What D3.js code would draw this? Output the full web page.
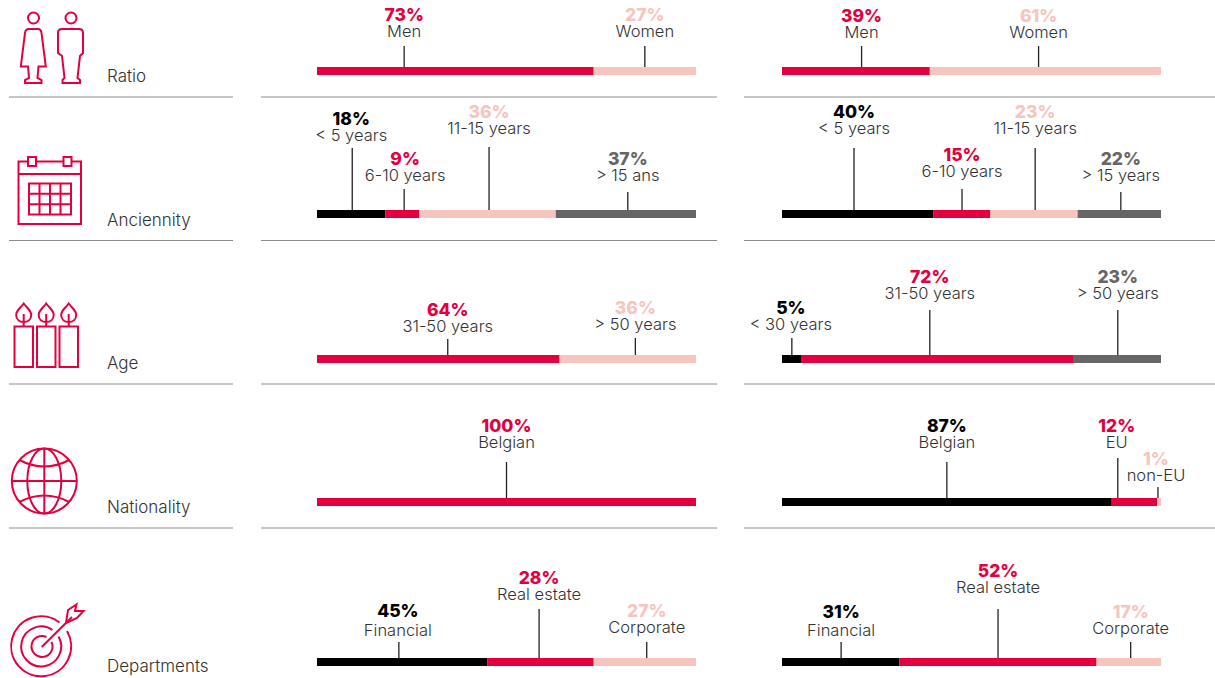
<!DOCTYPE html>
<html>
<head>
<meta charset="utf-8">
<script src="https://cdn.jsdelivr.net/npm/d3@7"></script>
<style>
html, body { margin: 0; padding: 0; background: #fff; }
svg { display: block; }
text { font-family: Inter, "Open Sans", sans-serif; text-anchor: middle; }
.pct { font-size: 17.5px; font-weight: 800; }
.name { font-size: 16.5px; font-weight: 300; fill: #333; }
.rowname { font-size: 17px; font-weight: 300; fill: #333; text-anchor: start; }
.icon * { fill: none; stroke: #e4003f; stroke-width: 2; }
</style>
</head>
<body>
<div id="the_chart"></div>
<script>
var rowNames = ["Ratio", "Anciennity", "Age", "Nationality", "Departments"];

// left column
var ratioNamesA = ["Men", "Women"];
var ratioValuesA = [73, 27];
var ancNamesA = ["< 5 years", "6-10 years", "11-15 years", "> 15 ans"];
var ancValuesA = [18, 9, 36, 37];
var ageNamesA = ["31-50 years", "> 50 years"];
var ageValuesA = [64, 36];
var natNamesA = ["Belgian"];
var natValuesA = [100];
var depNamesA = ["Financial", "Real estate", "Corporate"];
var depValuesA = [45, 28, 27];

// right column
var ratioNamesB = ["Men", "Women"];
var ratioValuesB = [39, 61];
var ancNamesB = ["< 5 years", "6-10 years", "11-15 years", "> 15 years"];
var ancValuesB = [40, 15, 23, 22];
var ageNamesB = ["< 30 years", "31-50 years", "> 50 years"];
var ageValuesB = [5, 72, 23];
var natNamesB = ["Belgian", "EU", "non-EU"];
var natValuesB = [87, 12, 1];
var depNamesB = ["Financial", "Real estate", "Corporate"];
var depValuesB = [31, 52, 17];

var colors = { red: "#e4003f", pink: "#f6c5be", black: "#000000", grey: "#666666" };

// where the leader lines sit, on the same 0-100 axis as the bars
var stemAtA = [[23, 86.5], [9.3, 23, 45.4, 82], [34.5, 84], [50], [21.6, 58.6, 87]];
var stemAtB = [[21, 67.7], [19, 47.5, 66.8, 89.4], [2.6, 39, 88.6], [43.5, 88.6, 99.2], [15.6, 57, 92]];

var w = 1215, h = 678;
var barH = 8;
var barTop = [67, 210, 355, 498, 658];
var ruleY = [97, 240.5, 384, 528];

var panels = [
  // left column
  { col: 0, row: 0, names: ratioNamesA, values: ratioValuesA, tones: ["red", "pink"],
    stemTop: [46, 46], pctY: [15, 15], nameY: [31, 31], dx: [0, 0] },
  { col: 0, row: 1, names: ancNamesA, values: ancValuesA, tones: ["black", "red", "pink", "grey"],
    stemTop: [148, 189, 147, 192], pctY: [119, 159, 112, 159], nameY: [135, 175, 128, 175], dx: [-1, 1, 0, 0] },
  { col: 0, row: 2, names: ageNamesA, values: ageValuesA, tones: ["red", "pink"],
    stemTop: [339, 338], pctY: [310, 308], nameY: [326, 324], dx: [0, 0] },
  { col: 0, row: 3, names: natNamesA, values: natValuesA, tones: ["red"],
    stemTop: [462], pctY: [426], nameY: [442], dx: [0] },
  { col: 0, row: 4, names: depNamesA, values: depValuesA, tones: ["black", "red", "pink"],
    stemTop: [642, 609, 642], pctY: [611, 578, 611], nameY: [630, 594, 627], dx: [-1, 0, 0] },
  // right column
  { col: 1, row: 0, names: ratioNamesB, values: ratioValuesB, tones: ["red", "pink"],
    stemTop: [46, 46], pctY: [16, 16], nameY: [32, 32], dx: [0, 0] },
  { col: 1, row: 1, names: ancNamesB, values: ancValuesB, tones: ["black", "red", "pink", "grey"],
    stemTop: [148, 189, 148, 192], pctY: [112, 155, 112, 159], nameY: [128, 171, 128, 175], dx: [0, 0, 0, 0] },
  { col: 1, row: 2, names: ageNamesB, values: ageValuesB, tones: ["black", "red", "grey"],
    stemTop: [338, 310, 310], pctY: [308, 277, 277], nameY: [324, 293, 293], dx: [-1, 0, 0] },
  { col: 1, row: 3, names: natNamesB, values: natValuesB, tones: ["black", "red", "pink"],
    stemTop: [462, 458, 487], pctY: [426, 426, 459], nameY: [442, 442, 475], dx: [0, -1, -2] },
  { col: 1, row: 4, names: depNamesB, values: depValuesB, tones: ["black", "red", "pink"],
    stemTop: [642, 609, 642], pctY: [612, 571, 612], nameY: [630, 587, 628], dx: [0, 0, 0] }
];

var xscales = [
  d3.scaleLinear().domain([0, 100]).range([317, 696]),
  d3.scaleLinear().domain([0, 100]).range([782, 1161])
];
var stemAts = [stemAtA, stemAtB];

var svg = d3.select("#the_chart").append("svg")
  .attr("width", w)
  .attr("height", h);

// separators
var ruleSpans = [[9, 233], [261, 717], [744, 1215]];
ruleY.forEach(function (y) {
  svg.append("g").selectAll("line")
    .data(ruleSpans)
    .enter().append("line")
    .attr("x1", function (d) { return d[0]; })
    .attr("x2", function (d) { return d[1]; })
    .attr("y1", y)
    .attr("y2", y)
    .attr("stroke", "#8c8c8c")
    .attr("stroke-width", 1);
});

// row titles
var rowNameY = [82, 226, 369, 513, 672];
svg.append("g").selectAll("text")
  .data(rowNames)
  .enter().append("text")
  .attr("class", "rowname")
  .attr("x", 107)
  .attr("y", function (d, i) { return rowNameY[i]; })
  .text(function (d) { return d; });

panels.forEach(function (p) {
  var x = xscales[p.col];
  var stems = stemAts[p.col][p.row];
  var starts = [0].concat(Array.from(d3.cumsum(p.values)));
  var g = svg.append("g");

  g.selectAll("rect")
    .data(p.values)
    .enter().append("rect")
    .attr("x", function (d, i) { return x(starts[i]); })
    .attr("y", barTop[p.row])
    .attr("width", function (d) { return x(d) - x(0); })
    .attr("height", barH)
    .attr("fill", function (d, i) { return colors[p.tones[i]]; });

  g.selectAll("line")
    .data(stems)
    .enter().append("line")
    .attr("x1", function (d) { return x(d); })
    .attr("x2", function (d) { return x(d); })
    .attr("y1", function (d, i) { return p.stemTop[i]; })
    .attr("y2", barTop[p.row])
    .attr("stroke", "#222")
    .attr("stroke-width", 1.3);

  g.selectAll(".pct")
    .data(p.values)
    .enter().append("text")
    .attr("class", "pct")
    .attr("x", function (d, i) { return x(stems[i]) + p.dx[i]; })
    .attr("y", function (d, i) { return p.pctY[i] + 6; })
    .attr("fill", function (d, i) { return colors[p.tones[i]]; })
    .text(function (d) { return d + "%"; });

  g.selectAll(".name")
    .data(p.names)
    .enter().append("text")
    .attr("class", "name")
    .attr("x", function (d, i) { return x(stems[i]) + p.dx[i]; })
    .attr("y", function (d, i) { return p.nameY[i] + 6; })
    .text(function (d) { return d; });
});

// icons
var icons = svg.append("g").attr("class", "icon");

// people
icons.append("circle").attr("cx", 33.5).attr("cy", 18).attr("r", 5.5);
icons.append("circle").attr("cx", 71).attr("cy", 18).attr("r", 5.5);
icons.append("path").attr("d", "M29 29L38 29Q41 29 41.5 33L45.8 66.5L38.5 66.5L37.5 78L41.5 80L41.5 83L25 83L25 80L29 78L28 66.5L20.8 66.5L25 33Q25.5 29 29 29Z");
icons.append("path").attr("d", "M62 29L79 29Q83 29 83 33L83 53L80 56L77.5 78L80 80L80 83L62.5 83L62.5 80L64.5 78L62 56L58 53L58 33Q58 29 62 29Z");

// calendar
icons.append("rect").attr("x", 18.5).attr("y", 161.5).attr("width", 62.5).attr("height", 62.5);
icons.append("line").attr("x1", 18.5).attr("x2", 81).attr("y1", 174).attr("y2", 174);
[28, 63.5].forEach(function (tx) {
  icons.append("rect").attr("x", tx).attr("y", 157).attr("width", 8).attr("height", 9).style("fill", "#fff");
});
icons.append("rect").attr("x", 29).attr("y", 183.5).attr("width", 42).attr("height", 31);
[39.5, 50, 60.5].forEach(function (gx) {
  icons.append("line").attr("x1", gx).attr("x2", gx).attr("y1", 183.5).attr("y2", 214.5);
});
[193.8, 204.2].forEach(function (gy) {
  icons.append("line").attr("x1", 29).attr("x2", 71).attr("y1", gy).attr("y2", gy);
});

// candles
[14.5, 37, 59.5].forEach(function (cx) {
  icons.append("rect").attr("x", cx).attr("y", 326.5).attr("width", 18.5).attr("height", 40.5);
  var m = cx + 9.2;
  icons.append("path").attr("d", "M" + m + " 303.5C" + (m + 3) + " 308 " + (m + 7.5) + " 310 " + (m + 7.5) + " 315C" + (m + 7.5) + " 319.5 " + (m + 4) + " 322 " + m + " 322C" + (m - 4) + " 322 " + (m - 7.5) + " 319.5 " + (m - 7.5) + " 315C" + (m - 7.5) + " 310 " + (m - 3) + " 308 " + m + " 303.5Z");
  icons.append("line").attr("x1", m).attr("x2", m).attr("y1", 314).attr("y2", 326.5);
});

// globe
var gx = 44.3, gy = 481;
icons.append("circle").attr("cx", gx).attr("cy", gy).attr("r", 32.5);
icons.append("ellipse").attr("cx", gx).attr("cy", gy).attr("rx", 17).attr("ry", 32.5);
icons.append("line").attr("x1", gx).attr("x2", gx).attr("y1", gy - 32.5).attr("y2", gy + 32.5);
icons.append("line").attr("x1", gx - 32.5).attr("x2", gx + 32.5).attr("y1", gy).attr("y2", gy);
icons.append("path").attr("d", "M" + (gx - 25) + " " + (gy - 21) + "Q" + gx + " " + (gy - 8) + " " + (gx + 25) + " " + (gy - 21));
icons.append("path").attr("d", "M" + (gx - 25) + " " + (gy + 21) + "Q" + gx + " " + (gy + 8) + " " + (gx + 25) + " " + (gy + 21));

// target
var tx = 41.7, ty = 647;
icons.append("path").attr("d", "M59.5 622.5A30 30 0 1 0 67 631");
icons.append("path").attr("d", "M52.5 630A20 20 0 1 0 58.5 636.5");
icons.append("path").attr("d", "M46.5 637A10.5 10.5 0 1 0 51.5 642");
icons.append("line").attr("x1", tx).attr("x2", 72).attr("y1", ty).attr("y2", 617);
icons.append("path").attr("d", "M66 623L68 610L76.5 604.5L75 611L83.5 611L77 618L66 623Z");
</script>
</body>
</html>
